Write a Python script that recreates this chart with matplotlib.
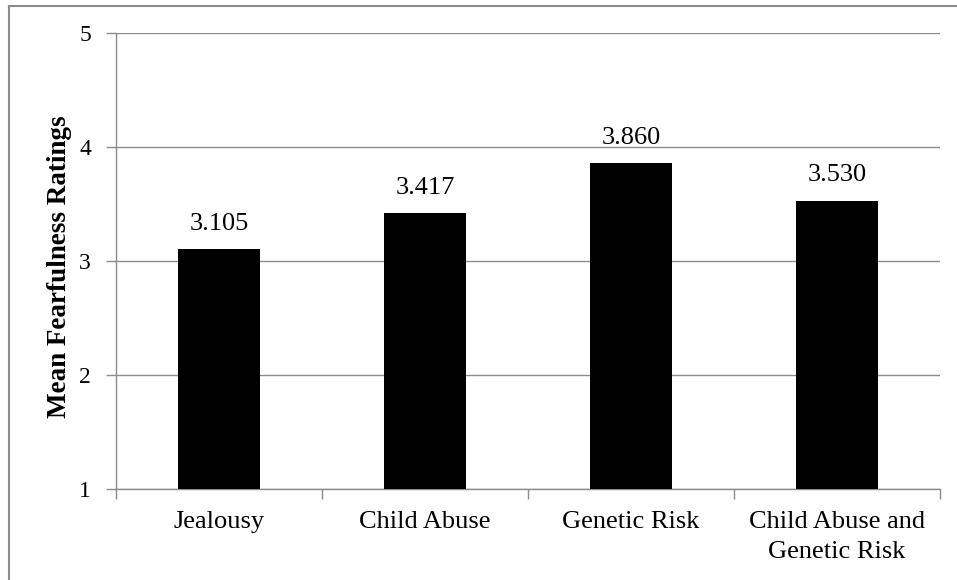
#!/usr/bin/env python3
"""Mean fearfulness ratings by condition, Excel-style bar chart."""

import matplotlib
matplotlib.use("Agg")
import matplotlib.pyplot as plt
from matplotlib.lines import Line2D

conditions = ["Jealousy", "Child Abuse", "Genetic Risk", "Child Abuse and\nGenetic Risk"]
mean_ratings = [3.105, 3.417, 3.860, 3.530]
y_ticks = [1, 2, 3, 4, 5]

GRAY = "#8c8c8c"

plt.rcParams["font.family"] = ["Liberation Serif", "DejaVu Serif"]

fig = plt.figure(figsize=(9.57, 5.8), dpi=100)
ax = fig.add_axes([0.1212, 0.1569, 0.8610, 0.7862])

xpos = list(range(len(conditions)))
ax.bar(xpos, [v - 1 for v in mean_ratings], bottom=1, width=0.4,
       color="black", zorder=3)

# value labels above each bar
for x, v in zip(xpos, mean_ratings):
    ax.annotate(f"{v:.3f}", (x, v), xytext=(0, 14), textcoords="offset points",
                ha="center", va="baseline", fontsize=19)

ax.set_ylim(1, 5)
ax.set_xlim(-0.5, len(conditions) - 0.5)
ax.set_yticks(y_ticks)
ax.set_yticklabels([str(t) for t in y_ticks], fontsize=17)
ax.yaxis.grid(True, color=GRAY, linewidth=1.0, zorder=0)
ax.set_axisbelow(True)

# category labels at centres, tick marks at the category boundaries
ax.set_xticks(xpos)
ax.set_xticklabels(conditions, fontsize=19, linespacing=1.45)
ax.tick_params(axis="x", length=0, pad=16)
ax.set_xticks([x + 0.5 for x in [-1] + xpos], minor=True)
ax.tick_params(axis="x", which="minor", length=7, color=GRAY, width=1.0)
ax.tick_params(axis="y", length=7, color=GRAY, width=1.0, pad=11)

for side in ["top", "right"]:
    ax.spines[side].set_visible(False)
for side in ["left", "bottom"]:
    ax.spines[side].set_color(GRAY)
    ax.spines[side].set_linewidth(1.0)

ax.set_ylabel("Mean Fearfulness Ratings", fontsize=19.5, fontweight="bold")
ax.yaxis.set_label_coords(-0.053, 0.488)

# outer chart border (left and top visible)
fig.add_artist(Line2D([8.5 / 957, 8.5 / 957], [0, 1 - 5.5 / 580],
                      transform=fig.transFigure, color=GRAY, linewidth=1.5))
fig.add_artist(Line2D([8.5 / 957, 1], [1 - 5.5 / 580, 1 - 5.5 / 580],
                      transform=fig.transFigure, color=GRAY, linewidth=1.5))

fig.savefig("out.png", dpi=100)
